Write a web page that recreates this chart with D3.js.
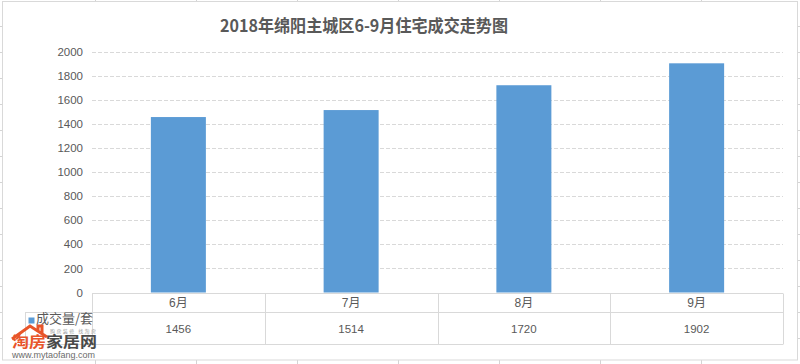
<!DOCTYPE html>
<html>
<head>
<meta charset="utf-8">
<script src="https://cdn.jsdelivr.net/npm/d3@7"></script>
<style>
  body { margin: 0; background: #fff; }
  text { font-family: "Liberation Sans", "Noto Sans CJK SC", sans-serif; }
</style>
</head>
<body>
<div id="chart-area"></div>
<script>

// Data
var months = ["6月", "7月", "8月", "9月"];
var sales = [1456, 1514, 1720, 1902];
var yTicks = [0, 200, 400, 600, 800, 1000, 1200, 1400, 1600, 1800, 2000];
var seriesName = "成交量/套";
var title = "2018年绵阳主城区6-9月住宅成交走势图";

var W = 800, H = 364;
var grey = "#595959", line = "#d9d9d9", blue = "#5b9bd5";

var svg = d3.select("#chart-area").append("svg")
    .attr("width", W)
    .attr("height", H);

// spreadsheet grid behind the chart
var sheet = svg.append("g").attr("stroke", "#d4d4d4").attr("stroke-width", 1);
d3.range(0, 8).forEach(function(i) {
    var x = 95.5 + i * 101;
    sheet.append("line").attr("x1", x).attr("x2", x).attr("y1", 0).attr("y2", H);
});
d3.range(1, 14).forEach(function(i) {
    var y = 0.5 + i * 26;
    sheet.append("line").attr("x1", 0).attr("x2", W).attr("y1", y).attr("y2", y);
});

// chart area
svg.append("rect")
    .attr("x", 2.5).attr("y", 1.5)
    .attr("width", 795).attr("height", 358.5)
    .attr("fill", "#fff")
    .attr("stroke", line);

svg.append("text")
    .attr("x", 364).attr("y", 32)
    .attr("text-anchor", "middle")
    .attr("font-size", 17)
    .attr("font-weight", "bold")
    .attr("fill", grey)
    .style("font-family", "'Noto Sans CJK SC', sans-serif")
    .attr("textLength", 288)
    .attr("lengthAdjust", "spacingAndGlyphs")
    .text(title);

// Scales
var x = d3.scaleBand()
    .domain(months)
    .range([92, 783]);

var y = d3.scaleLinear()
    .domain([0, 2000])
    .range([292.5, 51.5]);

// gridlines
svg.selectAll(".grid")
    .data(yTicks.filter(d => d > 0))
    .join("line")
    .attr("class", "grid")
    .attr("x1", 92).attr("x2", 783)
    .attr("y1", d => Math.round(y(d)) + 0.5)
    .attr("y2", d => Math.round(y(d)) + 0.5)
    .attr("stroke", line)
    .attr("stroke-dasharray", "4,2");

var yAxis = d3.axisLeft(y)
    .tickValues(yTicks)
    .tickFormat(d3.format("d"))
    .tickSize(0)
    .tickPadding(9);
svg.append("g")
    .attr("class", "y-axis")
    .attr("transform", "translate(92,0)")
    .call(yAxis)
    .call(g => g.select(".domain").remove())
    .call(g => g.selectAll("text")
        .attr("fill", grey)
        .attr("font-size", 11.5)
        .style("font-family", "'Liberation Sans', sans-serif"));

// bars
var barW = 55;
svg.selectAll(".bar")
    .data(sales)
    .join("rect")
    .attr("class", "bar")
    .attr("x", (d, i) => x(months[i]) + x.bandwidth() / 2 - barW / 2)
    .attr("y", d => y(d))
    .attr("width", barW)
    .attr("height", d => y(0) - y(d))
    .attr("fill", blue);

// data table
var rowTop = 293.5, rowMid = 312.5, rowBot = 344.5;
var table = svg.append("g").attr("stroke", line).attr("fill", "none");
table.append("line").attr("x1", 92).attr("x2", 783).attr("y1", rowTop).attr("y2", rowTop);
table.append("line").attr("x1", 25).attr("x2", 783).attr("y1", rowMid).attr("y2", rowMid);
table.append("line").attr("x1", 25).attr("x2", 783).attr("y1", rowBot).attr("y2", rowBot);
table.append("line").attr("x1", 25.5).attr("x2", 25.5).attr("y1", rowMid).attr("y2", rowBot);
months.concat(["end"]).forEach(function(m, i) {
    var xx = Math.round(92 + i * x.bandwidth()) + 0.5;
    table.append("line").attr("x1", xx).attr("x2", xx).attr("y1", rowTop).attr("y2", rowBot);
});

svg.selectAll(".month")
    .data(months)
    .join("text")
    .attr("class", "month")
    .attr("x", d => x(d) + x.bandwidth() / 2)
    .attr("y", 307)
    .attr("text-anchor", "middle")
    .attr("font-size", 12)
    .attr("fill", grey)
    .text(d => d);

svg.selectAll(".val")
    .data(sales)
    .join("text")
    .attr("class", "val")
    .attr("x", (d, i) => x(months[i]) + x.bandwidth() / 2)
    .attr("y", 333)
    .attr("text-anchor", "middle")
    .attr("font-size", 11.5)
    .attr("fill", grey)
    .text(d => d);

// legend key in the table
svg.append("rect")
    .attr("x", 28.5).attr("y", 317.5)
    .attr("width", 6).attr("height", 6)
    .attr("fill", blue);
svg.append("text")
    .attr("x", 36).attr("y", 323)
    .attr("font-size", 13)
    .attr("fill", grey)
    .style("font-family", "'Noto Sans CJK SC', sans-serif")
    .text(seriesName);

// watermark (logo overlay, bottom left)
var wm = svg.append("g");
wm.append("path")
    .attr("d", "M12,339 L30,326 L47,337 M38,331 L38,326 L42,326 L42,334")
    .attr("fill", "none")
    .attr("stroke", "#e8552a")
    .attr("stroke-width", 3)
    .attr("stroke-linejoin", "miter");
wm.append("text")
    .attr("x", 50).attr("y", 332.5)
    .attr("font-size", 5)
    .attr("fill", "#999")
    .style("font-family", "'Noto Sans CJK SC', sans-serif")
    .attr("textLength", 46)
    .text("购房装修 找淘房");
var logo = wm.append("text")
    .attr("x", 12).attr("y", 347)
    .attr("font-size", 15)
    .attr("font-weight", "bold")
    .style("font-family", "'Noto Sans CJK SC', sans-serif")
    .attr("textLength", 85)
    .attr("lengthAdjust", "spacingAndGlyphs");
logo.append("tspan").attr("fill", "#e8552a").text("淘房");
logo.append("tspan").attr("fill", "#4a4a4a").text("家居网");
wm.append("text")
    .attr("x", 12).attr("y", 358)
    .attr("font-size", 9.5)
    .attr("fill", "#6b6b6b")
    .attr("textLength", 83)
    .attr("lengthAdjust", "spacingAndGlyphs")
    .text("www.mytaofang.com");

</script>
</body>
</html>
